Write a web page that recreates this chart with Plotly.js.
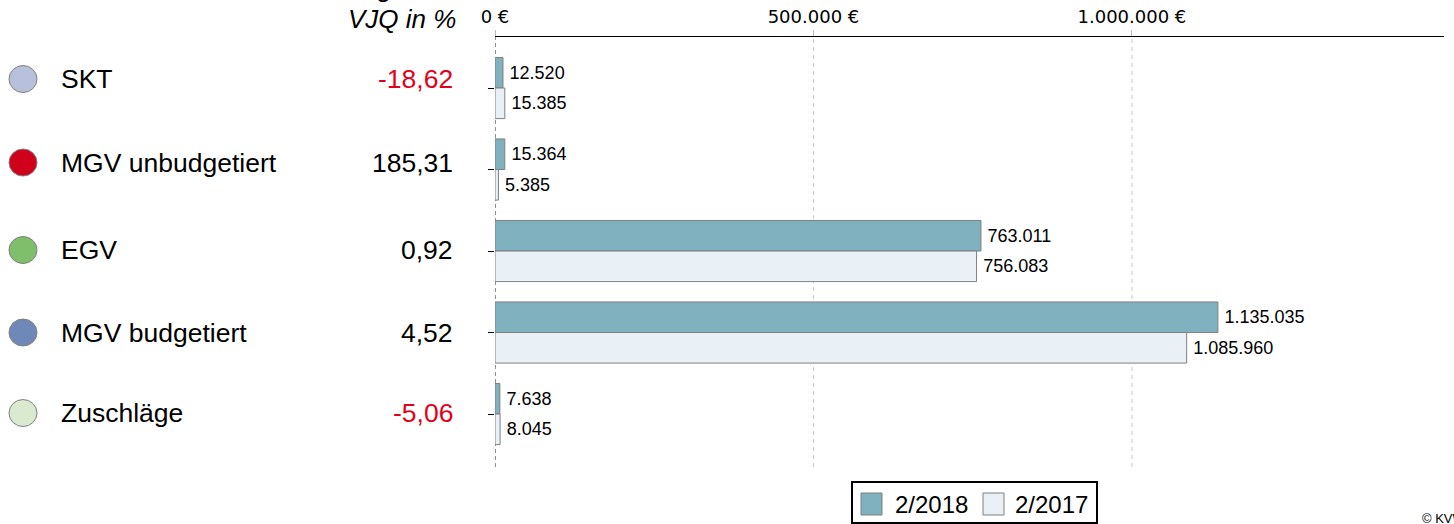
<!DOCTYPE html>
<html>
<head>
<meta charset="utf-8">
<script src="https://cdn.plot.ly/plotly-3.0.1.min.js"></script>
<style>html,body{margin:0;padding:0;background:#fff;}#chart{width:1454px;height:524px;}</style>
</head>
<body>
<div id="chart"></div>
<script>
// ---- data ----
const categories = ['SKT', 'MGV unbudgetiert', 'EGV', 'MGV budgetiert', 'Zuschläge'];
const values2018 = [12520, 15364, 763011, 1135035, 7638];
const values2017 = [15385, 5385, 756083, 1085960, 8045];
const vjqPercent = [-18.62, 185.31, 0.92, 4.52, -5.06];
const seriesNames = ['2/2018', '2/2017'];
const tickValues = [0, 500000, 1000000];

// ---- styles ----
const circleColors = ['#b8c1dc', '#d0021b', '#7fbe6b', '#7088b8', '#d9ead1'];
const seriesColors = ['#80b1bf', '#e9f1f7'];
const labelShift = [9, 7, 1, 0, 1];
const FONT = 'Arial, "Liberation Sans", sans-serif';

function fmtInt(n) { return String(Math.round(n)).replace(/\B(?=(\d{3})+(?!\d))/g, '.'); }
function fmtPct(v) { return v.toFixed(2).replace('.', ','); }

const W = 1454, H = 524, ML = 495, MR = 10, MT = 37, MB = 57;
const PW = W - ML - MR, PH = H - MT - MB;
const xp = px => (px - ML) / PW;
const yp = py => (H - MB - py) / PH;

const traces = [values2018, values2017].map((vals, i) => ({
  type: 'bar',
  orientation: 'h',
  name: seriesNames[i],
  y: categories,
  x: vals,
  text: vals.map(v => '\u2009' + fmtInt(v)),
  textposition: 'outside',
  textfont: {family: FONT, size: 18, color: '#000'},
  constraintext: 'none',
  cliponaxis: false,
  marker: {color: seriesColors[i], line: {color: '#7f7f7f', width: 1}},
  hoverinfo: 'skip',
  showlegend: false
}));

const shapes = [];
// vertical gridlines (non-zero ticks)
tickValues.filter(v => v > 0).forEach(v => shapes.push({
  type: 'line', xref: 'x', yref: 'paper', x0: v, x1: v, y0: 0, y1: 1,
  line: {color: '#c8c8c8', width: 1, dash: '4px,4px'}, layer: 'below'
}));
// dashed value axis at zero
shapes.push({type: 'line', xref: 'x', yref: 'paper', x0: 0, x1: 0, y0: 0, y1: 1,
  line: {color: '#222', width: 1, dash: '4px,3px'}, layer: 'below'});

const annotations = [];
categories.forEach((c, i) => {
  shapes.push({
    type: 'circle', xref: 'paper', yref: 'y',
    xsizemode: 'pixel', ysizemode: 'pixel', xanchor: 0, yanchor: i,
    x0: 9 - ML, x1: 37 - ML, y0: labelShift[i] - 13.5, y1: labelShift[i] + 13.5,
    fillcolor: circleColors[i], line: {color: '#808080', width: 1}
  });
  annotations.push({
    xref: 'paper', yref: 'y', x: 0, y: i, xshift: 59 - ML, yshift: labelShift[i],
    xanchor: 'left', yanchor: 'middle', showarrow: false,
    text: c, font: {family: FONT, size: 26.5, color: '#000'}
  });
  annotations.push({
    xref: 'paper', yref: 'y', x: 0, y: i, xshift: 455 - ML, yshift: labelShift[i],
    xanchor: 'right', yanchor: 'middle', showarrow: false,
    text: fmtPct(vjqPercent[i]),
    font: {family: FONT, size: 26.5, color: vjqPercent[i] < 0 ? '#e2001a' : '#000'}
  });
});

// header
annotations.push({xref: 'paper', yref: 'paper', x: 0, xshift: 458 - ML, y: yp(19),
  xanchor: 'right', yanchor: 'middle', showarrow: false, text: '<i>VJQ in %</i>',
  font: {family: FONT, size: 26, color: '#000'}});
annotations.push({xref: 'paper', yref: 'paper', x: 0, xshift: 395 - ML, y: yp(-12),
  xanchor: 'right', yanchor: 'middle', showarrow: false, text: '<i>Veränderung</i>',
  font: {family: FONT, size: 26, color: '#000'}});

// legend
shapes.push({type: 'rect', xref: 'paper', yref: 'paper', x0: xp(852), x1: xp(1097), y0: yp(482), y1: yp(523),
  line: {color: '#000', width: 2}, fillcolor: 'rgba(0,0,0,0)'});
const legX = [861, 983], legTextX = [893, 1013];
seriesNames.forEach((n, i) => {
  shapes.push({type: 'rect', xref: 'paper', yref: 'paper', x0: xp(legX[i]), x1: xp(legX[i] + 21),
    y0: yp(493), y1: yp(515), fillcolor: seriesColors[i], line: {color: '#7f7f7f', width: 1}});
  annotations.push({xref: 'paper', yref: 'paper', x: xp(legTextX[i]), y: yp(504),
    xanchor: 'left', yanchor: 'middle', showarrow: false, text: n,
    font: {family: FONT, size: 24, color: '#000'}});
});

// copyright
annotations.push({xref: 'paper', yref: 'paper', x: xp(1420), y: yp(518),
  xanchor: 'left', yanchor: 'middle', showarrow: false, text: '© KVWL',
  font: {family: FONT, size: 13, color: '#000'}});

const layout = {
  width: W, height: H,
  margin: {l: ML, r: MR, t: MT, b: MB, pad: 0},
  paper_bgcolor: '#fff', plot_bgcolor: '#fff',
  barmode: 'group', bargap: 0.25, bargroupgap: 0,
  showlegend: false,
  xaxis: {
    range: [0, 1490000], side: 'top', showline: true, linecolor: '#000', linewidth: 1,
    tickmode: 'array', tickvals: tickValues, ticktext: tickValues.map(v => fmtInt(v) + ' €'),
    tickfont: {family: 'DejaVu Sans', size: 18, color: '#000'},
    ticks: 'outside', ticklen: 6, tickcolor: '#bbb', showgrid: false, zeroline: false, fixedrange: true
  },
  yaxis: {
    type: 'category', categoryorder: 'array', categoryarray: categories,
    range: [4.65, -0.626], showticklabels: false, ticks: 'outside', ticklen: 6, tickcolor: '#000',
    showline: false, showgrid: false, zeroline: false, fixedrange: true
  },
  shapes: shapes,
  annotations: annotations
};

Plotly.newPlot('chart', traces, layout, {displayModeBar: false, staticPlot: true});
</script>
</body>
</html>
